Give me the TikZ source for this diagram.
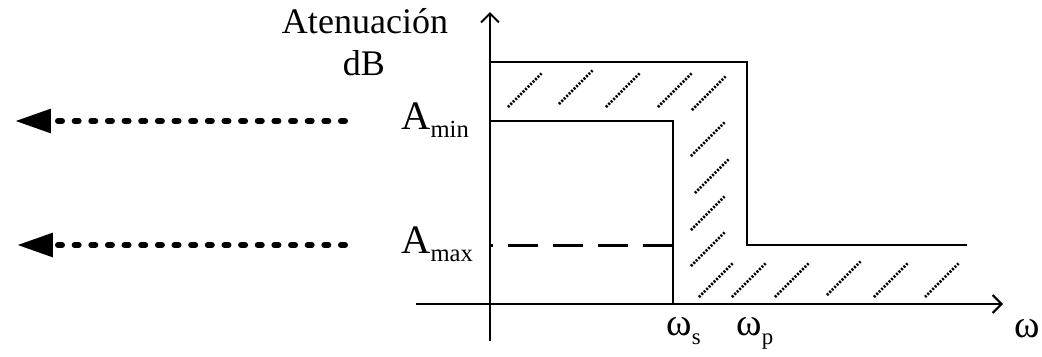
\documentclass[tikz,border=0pt]{standalone}
\usepackage{fontspec}
\setmainfont{Liberation Serif}
\usetikzlibrary{arrows.meta}

\begin{document}
\begin{tikzpicture}[
  x=0.02cm, y=-0.02cm,
  axis/.style={line width=0.04cm, -{Straight Barb[length=0.18cm, width=0.36cm]}},
  edge/.style={line width=0.04cm},
  limit/.style={line width=0.06cm, dash pattern=on 0.6cm off 0.3cm},
  hatch/.style={line width=0.05cm, dash pattern=on 0.04cm off 0.03cm},
  outarrow/.style={line width=0.12cm, line cap=round, dash pattern=on 0.08cm off 0.253cm,
    -{Triangle[length=0.72cm, width=0.46cm, line cap=butt]}},
  lab/.style={inner sep=0pt, anchor=base west, font=\fontsize{23}{26}\selectfont},
  title/.style={inner sep=0pt, anchor=base, font=\fontsize{20.5}{24}\selectfont},
  freq/.style={inner sep=0pt, anchor=base west, font=\fontsize{22}{24}\selectfont}
]
  \useasboundingbox (0,0) rectangle (1042,356);

  % axes
  \coordinate (xstart) at (416,304);
  \coordinate (xend) at (1003,304);
  \coordinate (ystart) at (490,341);
  \coordinate (yend) at (490,12);
  \draw[axis] (xstart) -- (xend);
  \draw[axis] (ystart) -- (yend);

  % attenuation template
  \coordinate (tl) at (490,62);
  \coordinate (tp) at (747,62);
  \coordinate (bp) at (747,245);
  \coordinate (br) at (967,245);
  \draw[edge] (tl) -- (tp) -- (bp) -- (br);

  \coordinate (ml) at (490,121);
  \coordinate (ms) at (673,121);
  \coordinate (bs) at (673,304);
  \draw[edge] (ml) -- (ms) -- (bs);

  \coordinate (dl) at (490,245);
  \coordinate (ds) at (673,245);
  \draw[limit] (ds) -- (dl);

  % hatching
  \foreach \x/\y in {508/107, 559/104, 606/107, 658/107, 692/110,
                     691/156, 695/193, 691/230, 691/266,
                     699/297, 732/297, 775/297, 827/295, 874/297, 925/297}
    \draw[hatch] (\x,\y) -- ++(34,-34);

  % labels
  \node[title] (aten) at (365,33) {Atenuación};
  \node[title] (db) at (364,75) {dB};
  \node[lab] (amin) at (401,129) {A\raisebox{-5pt}{\fontsize{14}{14}\selectfont min}};
  \node[lab] (amax) at (401,253) {A\raisebox{-5pt}{\fontsize{14}{14}\selectfont max}};
  \node[freq] (ws) at (666,335) {ω\raisebox{-5.5pt}{\fontsize{13}{13}\selectfont s}};
  \node[freq] (wp) at (736,335) {ω\raisebox{-5.5pt}{\fontsize{13}{13}\selectfont p}};
  \node[freq] (w) at (1014,337) {ω};

  % dotted arrows
  \coordinate (u1) at (345,121);
  \coordinate (u2) at (15,121);
  \coordinate (l1) at (345,245);
  \coordinate (l2) at (17,245);
  \draw[outarrow] (u1) -- (u2);
  \draw[outarrow] (l1) -- (l2);
\end{tikzpicture}
\end{document}
